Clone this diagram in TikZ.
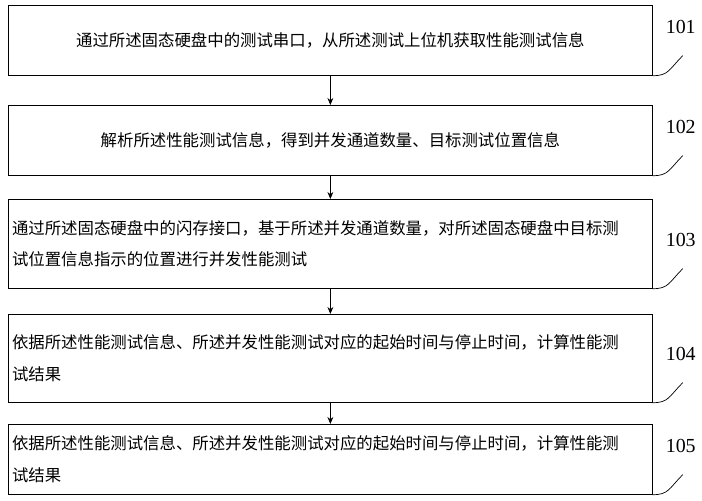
\documentclass[tikz,border=0pt]{standalone}
\usepackage{fontspec}
\setmainfont{Liberation Serif}
\newfontfamily\cjk{Noto Sans CJK SC}
\usetikzlibrary{arrows.meta}
\tikzset{
  stepbox/.style={draw, line width=0.6pt, minimum width=19.32cm, inner sep=0pt,
    font=\cjk\fontsize{14pt}{27pt}\selectfont},
  steplabel/.style={font=\fontsize{17pt}{17pt}\selectfont, anchor=south},
  flow/.style={-{Stealth[length=6pt,width=5pt]}, line width=0.6pt},
  leader/.style={line width=0.6pt}
}
\begin{document}
\begin{tikzpicture}[x=0.03cm,y=-0.03cm]
  \useasboundingbox (0,0) rectangle (702,500);
  % boxes
  \node[stepbox, minimum height=2.1cm, anchor=north west] (s1) at (8,5) {通过所述固态硬盘中的测试串口，从所述测试上位机获取性能测试信息};
  \node[stepbox, minimum height=2.1cm, anchor=north west] (s2) at (8,105) {解析所述性能测试信息，得到并发通道数量、目标测试位置信息};
  \node[stepbox, minimum height=2.67cm, anchor=north west, align=left, text width=19.1cm] (s3) at (8,199) {通过所述固态硬盘中的闪存接口，基于所述并发通道数量，对所述固态硬盘中目标测\\试位置信息指示的位置进行并发性能测试};
  \node[stepbox, minimum height=2.64cm, anchor=north west, align=left, text width=19.1cm] (s4) at (8,314) {依据所述性能测试信息、所述并发性能测试对应的起始时间与停止时间，计算性能测\\试结果};
  \node[stepbox, minimum height=2.1cm, anchor=north west, align=left, text width=19.1cm] (s5) at (8,424) {依据所述性能测试信息、所述并发性能测试对应的起始时间与停止时间，计算性能测\\试结果};
  % arrows
  \foreach \a/\b in {s1/s2,s2/s3,s3/s4,s4/s5}
    \draw[flow] (\a.south) -- (\b.north);
  % step numbers with leaders
  \foreach \s/\n in {s1/101,s2/102,s3/103,s4/104,s5/105}{
    \draw[leader] (\s.south east) .. controls +(16,0) and +(-14,14) .. ++(30,-20) coordinate (\s c);
    \node[steplabel] (\s l) at ([shift={(-2,-18)}]\s c) {\n};
  }
\end{tikzpicture}
\end{document}
